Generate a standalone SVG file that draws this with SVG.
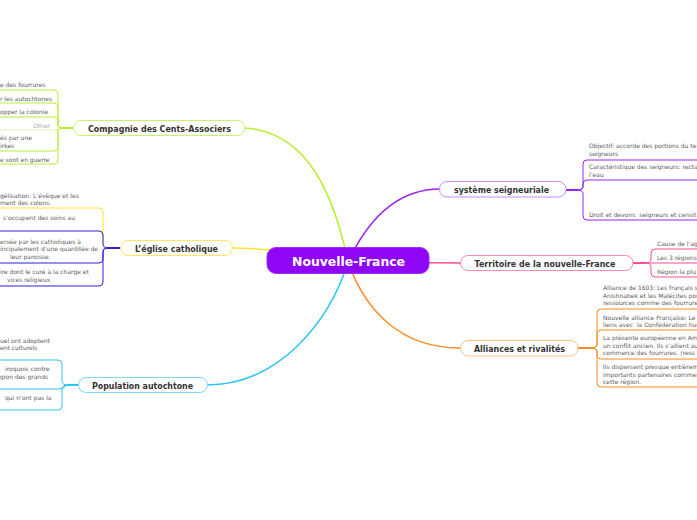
<svg xmlns="http://www.w3.org/2000/svg" width="697" height="520" viewBox="0 0 697 520">
<style>
.bg{fill:#ffffff}
.c{fill:none;stroke-width:1.5;stroke-linecap:round}
.l{fill:none;stroke-width:1;stroke-linecap:round;stroke-linejoin:round}
.s{fill:none;stroke-width:2}
.box{fill:#ffffff;stroke-width:1}
.nt{font-family:"DejaVu Sans","Liberation Sans",sans-serif;font-weight:bold;font-size:9px;fill:#333333;text-anchor:middle}
.ct{font-family:"DejaVu Sans","Liberation Sans",sans-serif;font-weight:bold;font-size:12.5px;fill:#ffffff;text-anchor:middle}
.t{font-family:"DejaVu Sans","Liberation Sans",sans-serif;font-size:6px;fill:#5c5c5c}
.pre{white-space:pre}
.o{fill:#aaaaaa}
.lime{stroke:#b6ef2e}.limeb{stroke:#c8f26a}.limel{stroke:#dcf5a6}
.yel{stroke:#ffe433}.yelb{stroke:#ffe466}
.blu{stroke:#2f1fd9}
.cya{stroke:#2ec4f5}.cyab{stroke:#80d8f7}
.pur{stroke:#9a22ee}.purb{stroke:#c98bf5}
.pnk{stroke:#ff4d94}.pnkb{stroke:#ff87b6}
.org{stroke:#ff8a1f}.orgb{stroke:#ffbf80}
</style>
<rect class="bg" x="0" y="0" width="697" height="520"/>
<g id="connectors">
<path class="c lime" d="M348,262 C335,200 310,132 245,128"/>
<path class="c yel" d="M348,262 C310,255 270,248 233,248"/>
<path class="c cya" d="M348,262 C330,320 280,385 207,385"/>
<path class="c pur" d="M348,262 C370,215 400,189 440,189"/>
<path class="c pnk" d="M348,262 L460,263"/>
<path class="c org" d="M348,262 C365,310 400,348 460,348"/>
<path class="l lime" d="M0,90 H54 Q58,90 58,94 V124 Q58,128 62,128"/>
<path class="l lime" d="M0,103 H54 Q58,103 58,107 V124 Q58,128 62,128"/>
<path class="l lime" d="M0,117 H54 Q58,117 58,121 V124 Q58,128 62,128"/>
<path class="l limel" d="M0,130 H55 Q59,130 62,128"/>
<path class="l lime" d="M0,151 H54 Q58,151 58,147 V132 Q58,128 62,128"/>
<path class="l lime" d="M0,164 H54 Q58,164 58,160 V132 Q58,128 62,128"/>
<path class="s lime" d="M62,128 H73"/>
<path class="l yel" d="M0,208 H99 Q103,208 103,212 V244 Q103,248 108,248"/>
<path class="l blu" d="M0,231 H99 Q103,231 103,235 V244 Q103,248 108,248"/>
<path class="l blu" d="M0,263 H99 Q103,263 103,259 V252 Q103,248 108,248"/>
<path class="l blu" d="M0,286 H99 Q103,286 103,282 V252 Q103,248 108,248"/>
<path class="s blu" d="M108,248 H120"/>
<path class="l cya" d="M0,360 H58 Q62,360 62,364 V381 Q62,385 67,385"/>
<path class="l cya" d="M0,389 H58 Q62,389 64,387 L67,385"/>
<path class="l cya" d="M0,410 H58 Q62,410 62,406 V389 Q62,385 67,385"/>
<path class="s cya" d="M67,385 H78"/>
<path class="l pur" d="M697,160 H587 Q583,160 583,164 V186 Q583,190 578,190"/>
<path class="l pur" d="M697,180 H587 Q583,180 583,184 V186 Q583,190 578,190"/>
<path class="l pur" d="M697,220 H587 Q583,220 583,216 V194 Q583,190 578,190"/>
<path class="s pur" d="M566,190 H578"/>
<path class="l pnk" d="M697,249 H655 Q651,249 651,253 V259 Q651,263 646,263"/>
<path class="l pnk" d="M697,263 H646"/>
<path class="l pnk" d="M697,277 H655 Q651,277 651,273 V267 Q651,263 646,263"/>
<path class="s pnk" d="M633,263 H646"/>
<path class="l org" d="M697,309 H601 Q597,309 597,313 V344 Q597,348 592,348"/>
<path class="l org" d="M697,330 H601 Q597,330 597,334 V344 Q597,348 592,348"/>
<path class="l org" d="M697,359 H601 Q597,359 597,355 V352 Q597,348 592,348"/>
<path class="l org" d="M697,387 H601 Q597,387 597,383 V352 Q597,348 592,348"/>
<path class="s org" d="M578,348 H592"/>
</g>
<g id="nouvelle-france">
<rect x="267" y="247.5" width="162" height="26" rx="9" fill="#8f06f5" stroke="#9b2ff5" stroke-width="1"/>
<text class="ct" x="348.5" y="266" textLength="113" lengthAdjust="spacingAndGlyphs">Nouvelle-France</text>
</g>
<g id="compagnie">
<rect class="box limeb" x="73.5" y="120.5" width="171.5" height="15" rx="7.5"/>
<text class="nt" x="159.5" y="131.5" textLength="143" lengthAdjust="spacingAndGlyphs">Compagnie des Cents-Associers</text>
<text class="t" x="0" y="87">e des fourrures</text>
<text class="t" x="0" y="101">r les autochtones</text>
<text class="t" x="0" y="114">opper la colonie</text>
<text class="t o" x="33" y="128">Other</text>
<text class="t" x="0" y="140">és par une</text>
<text class="t" x="0" y="148">irkes</text>
<text class="t" x="0" y="162">e sont en guerre</text>
</g>
<g id="eglise">
<rect class="box yelb" x="120.5" y="240.5" width="112" height="15" rx="7.5"/>
<text class="nt" x="176.5" y="251.5" textLength="83" lengthAdjust="spacingAndGlyphs">L’église catholique</text>
<text class="t" x="0" y="198">gélisation. L’évêque et les</text>
<text class="t" x="0" y="205">ment des colons.</text>
<text class="t" x="3" y="220">s’occupent des soins au</text>
<text class="t" x="0" y="244">ersée par les catholiques à</text>
<text class="t" x="0" y="251">incipalement d’une quantitée de</text>
<text class="t" x="10" y="259">leur paroisse.</text>
<text class="t" x="0" y="274">ire dont le curé à la charge et</text>
<text class="t" x="7" y="282">vices religieux.</text>
</g>
<g id="population">
<rect class="box cyab" x="78.5" y="377.5" width="129" height="15" rx="7.5"/>
<text class="nt" x="142.5" y="389" textLength="101" lengthAdjust="spacingAndGlyphs">Population autochtone</text>
<text class="t" x="0" y="343">uel ont adoptent</text>
<text class="t" x="0" y="350">ent culturels</text>
<text class="t" x="5" y="371">iroquois contre</text>
<text class="t" x="0" y="379">gion des grands</text>
<text class="t" x="5" y="400">qui n’ont pas la</text>
</g>
<g id="systeme">
<rect class="box purb" x="439.5" y="181.5" width="126.5" height="15.5" rx="7.5"/>
<text class="nt" x="501.5" y="193" textLength="95" lengthAdjust="spacingAndGlyphs">système seigneuriale</text>
<text class="t" x="589" y="148">Objectif: accorde des portions du te</text>
<text class="t" x="589" y="156">seigneurs</text>
<text class="t" x="589" y="169">Caractéristique des seigneurs: recta</text>
<text class="t" x="589" y="177">l’eau</text>
<text class="t pre" x="589" y="217">Droit et devoirs  seigneurs et censit</text>
</g>
<g id="territoire">
<rect class="box pnkb" x="460.5" y="255.5" width="172.5" height="15" rx="7.5"/>
<text class="nt" x="545" y="266.5" textLength="141" lengthAdjust="spacingAndGlyphs">Territoire de la nouvelle-France</text>
<text class="t" x="657" y="246">Cause de l’ag</text>
<text class="t" x="657" y="260">Les 3 régions</text>
<text class="t" x="657" y="274">Région la plu</text>
</g>
<g id="alliances">
<rect class="box orgb" x="460.5" y="340.5" width="117.5" height="15.5" rx="7.5"/>
<text class="nt" x="519.5" y="351.5" textLength="91" lengthAdjust="spacingAndGlyphs">Alliances et rivalités</text>
<text class="t" x="603" y="290">Alliance de 1603: Les français s</text>
<text class="t" x="603" y="298">Anishnabek et les Malécites pou</text>
<text class="t" x="603" y="305">ressources comme des fourrure</text>
<text class="t" x="603" y="320">Nouvelle alliance Française: Le</text>
<text class="t pre" x="603" y="327">liens avec  la Confédération hur</text>
<text class="t" x="603" y="340">La présente européenne en Am</text>
<text class="t" x="603" y="348">un conflit ancien. Ils s’allient au</text>
<text class="t" x="603" y="355">commerce des fourrures. (ress</text>
<text class="t" x="603" y="369">Ils dispersent presque entièrem</text>
<text class="t" x="603" y="377">importants partenaires commer</text>
<text class="t" x="603" y="384">cette région.</text>
</g>
</svg>
